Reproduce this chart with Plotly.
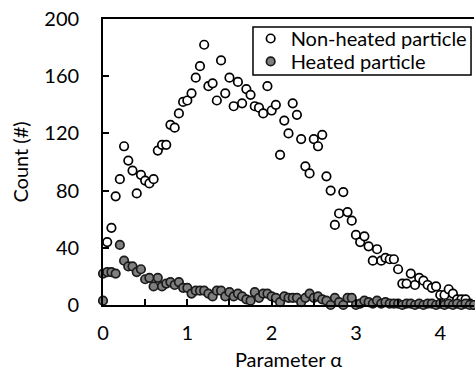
import plotly.graph_objects as go

# Bin positions (parameter alpha)
alpha = [0.00, 0.05, 0.10, 0.15, 0.20, 0.25, 0.30, 0.35, 0.40, 0.45,
         0.50, 0.55, 0.60, 0.65, 0.70, 0.75, 0.80, 0.85, 0.90, 0.95,
         1.00, 1.05, 1.10, 1.15, 1.20, 1.25, 1.30, 1.35, 1.40, 1.45,
         1.50, 1.55, 1.60, 1.65, 1.70, 1.75, 1.80, 1.85, 1.90, 1.95,
         2.00, 2.05, 2.10, 2.15, 2.20, 2.25, 2.30, 2.35, 2.40, 2.45,
         2.50, 2.55, 2.60, 2.65, 2.70, 2.75, 2.80, 2.85, 2.90, 2.95,
         3.00, 3.05, 3.10, 3.15, 3.20, 3.25, 3.30, 3.35, 3.40, 3.45,
         3.50, 3.55, 3.60, 3.65, 3.70, 3.75, 3.80, 3.85, 3.90, 3.95,
         4.00, 4.05, 4.10, 4.15, 4.20, 4.25, 4.30, 4.35, 4.40]

# Non-heated particle counts (from alpha = 0.05)
non_heated_alpha = alpha[1:]
non_heated = [44, 54, 76, 88, 111, 101, 94, 78, 91, 87,
              85, 88, 108, 112, 112, 126, 124, 134, 142, 143,
              148, 159, 167, 182, 153, 155, 143, 171, 148, 159,
              139, 156, 141, 151, 147, 139, 138, 134, 153, 136,
              140, 105, 129, 120, 141, 133, 116, 97, 92, 116,
              111, 119, 90, 80, 56, 64, 79, 65, 59, 49,
              44, 48, 41, 31, 39, 31, 33, 32, 32, 25,
              15, 15, 22, 14, 19, 17, 14, 12, 13, 7,
              7, 11, 8, 4, 4, 4, 1, 0]

# Heated particle counts (an extra bin at alpha = 0 first)
heated_alpha = [0.00] + alpha
heated = [3,
          22, 23, 23, 22, 42, 31, 27, 27, 23, 25,
          18, 19, 13, 19, 13, 15, 16, 14, 16, 12,
          12, 8, 10, 10, 10, 8, 6, 10, 10, 6,
          9, 6, 8, 6, 4, 3, 9, 5, 8, 8,
          6, 5, 2, 6, 5, 5, 5, 2, 5, 8,
          5, 6, 4, 3, 0, 5, 2, 0, 5, 5,
          0, 1, 3, 2, 1, 3, 1, 2, 1, 1,
          1, 0, 1, 1, 0, 1, 0, 1, 1, 0,
          1, 0, 1, 0, 1, 0, 1, 0, 0]

x_ticks = [0, 1, 2, 3, 4]
y_ticks = [0, 40, 80, 120, 160, 200]

FONT = "Lato"
FS = 20

fig = go.Figure()
fig.add_trace(go.Scatter(
    x=non_heated_alpha, y=non_heated, mode="markers",
    name="Non-heated particle", cliponaxis=False, legend="legend",
    marker=dict(symbol="circle", size=8.5, color="white",
                line=dict(color="black", width=1.7)),
))
fig.add_trace(go.Scatter(
    x=heated_alpha, y=heated, mode="markers",
    name="Heated particle", cliponaxis=False, legend="legend2",
    marker=dict(symbol="circle", size=8.5, color="#7f7f7f",
                line=dict(color="#1a1a1a", width=1.7)),
))

legend_common = dict(xanchor="left", yanchor="top", borderwidth=0,
                     bgcolor="rgba(0,0,0,0)", itemwidth=30,
                     font=dict(family=FONT, size=FS, color="black"))

fig.update_layout(
    width=475, height=371,
    margin=dict(l=103, r=1, t=19, b=66),
    paper_bgcolor="white", plot_bgcolor="white",
    font=dict(family=FONT, size=FS, color="black"),
    showlegend=True,
    legend=dict(x=0.398, y=1.0, **legend_common),
    legend2=dict(x=0.398, y=0.92, **legend_common),
    shapes=[dict(type="rect", xref="paper", yref="paper",
                 x0=0.4043, x1=0.992, y0=0.804, y1=0.972,
                 line=dict(color="black", width=1.5),
                 fillcolor="rgba(0,0,0,0)", layer="above")],
    xaxis=dict(range=[0, 4.4], tickmode="array", tickvals=x_ticks,
               ticks="inside", ticklen=6, tickwidth=1.5, tickcolor="black",
               minor=dict(dtick=0.5, tick0=0, ticks="inside", ticklen=6,
                          tickwidth=1.5, tickcolor="black"),
               showline=True, linecolor="black", linewidth=1.8, mirror=True,
               showgrid=False, zeroline=False, ticklabelstandoff=9,
               automargin=False,
               title=dict(text="Parameter α", standoff=18,
                          font=dict(family=FONT, size=FS))),
    yaxis=dict(range=[0, 200], tickmode="array", tickvals=y_ticks,
               ticks="inside", ticklen=6, tickwidth=1.5, tickcolor="black",
               showline=True, linecolor="black", linewidth=1.8, mirror=False,
               showgrid=False, zeroline=False, ticklabelstandoff=18,
               automargin=False,
               title=dict(text="Count (#)", standoff=10,
                          font=dict(family=FONT, size=FS))),
)

# remove the browser's default 8px body margin so the figure sits at (0, 0)
fig.write_html("out.html",
               config={"displayModeBar": False},
               post_script="document.body.style.margin='0';"
                           "document.body.style.overflow='hidden';")
